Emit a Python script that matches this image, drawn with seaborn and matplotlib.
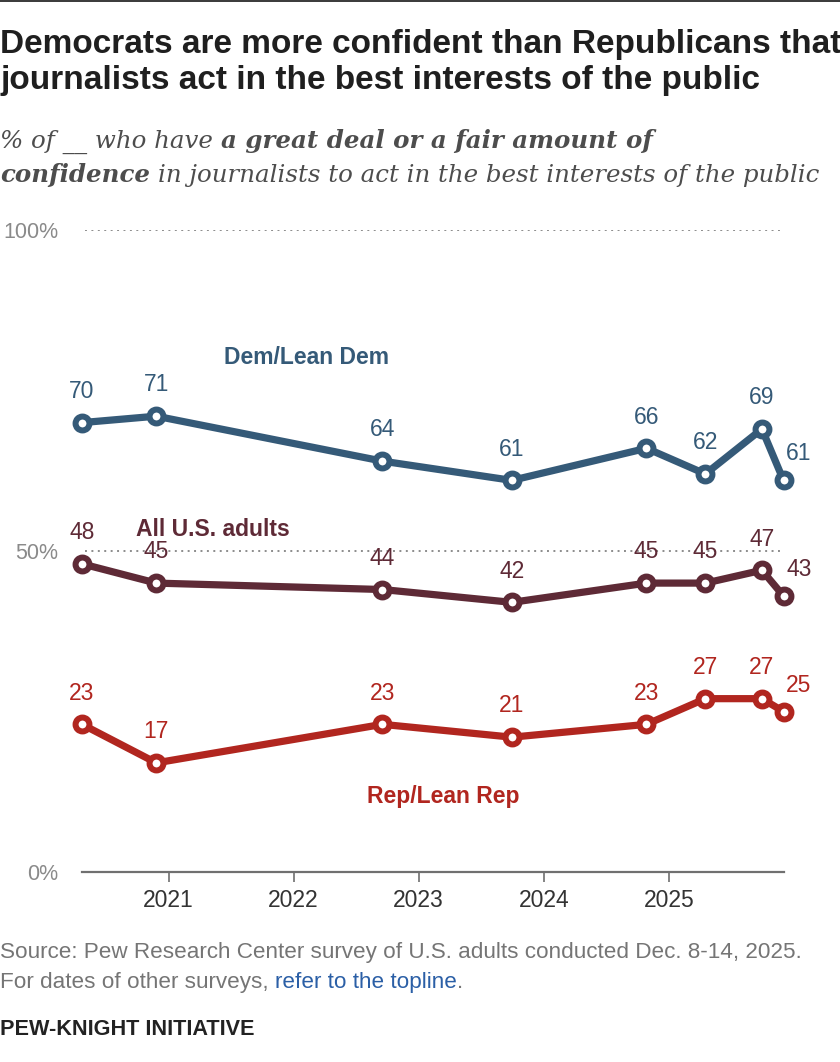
import pandas as pd
import matplotlib.pyplot as plt
import seaborn as sns

W, H = 840, 1062

# survey dates and shares
survey_dates = ["2020-04-23", "2020-11-26", "2022-09-17", "2023-09-30",
                "2024-10-27", "2025-04-17", "2025-09-29", "2025-12-01"]
dem = [70, 71, 64, 61, 66, 62, 69, 61]
all_adults = [48, 45, 44, 42, 45, 45, 47, 43]
rep = [23, 17, 23, 21, 23, 27, 27, 25]

groups = ["Dem/Lean Dem", "All U.S. adults", "Rep/Lean Rep"]
colors = ["#355a78", "#5e2a36", "#b1261f"]
year_ticks = [2021, 2022, 2023, 2024, 2025]
y_ticks = [0, 50, 100]
y_tick_labels = ["0%", "50%", "100%"]

df = pd.concat([
    pd.DataFrame({"date": pd.to_datetime(survey_dates), "value": vals, "group": g})
    for g, vals in zip(groups, [dem, all_adults, rep])
], ignore_index=True)

sns.set_style("white")
plt.rcParams["font.family"] = ["Liberation Sans", "DejaVu Sans"]

fig = plt.figure(figsize=(W / 100, H / 100), dpi=100)


def fx(x):
    return x / W


def fy(y):
    return 1 - y / H


ax = fig.add_axes([fx(82), fy(872), (783.5 - 82) / W, (872 - 230) / H])

# dotted reference lines
for y in [100, 50]:
    ax.axhline(y, xmin=0.004, xmax=0.995, color="#8c8c8c", lw=1.4,
               linestyle=(0, (1, 2.3)), zorder=1)

for g, c in zip(groups, colors):
    sub = df[df["group"] == g].reset_index(drop=True)
    sns.lineplot(data=sub, x="date", y="value", color=c, lw=5.2, marker="o",
                 ms=10, mfc="white", mec=c, mew=4.3, clip_on=False, zorder=4, ax=ax)
    for i, row in sub.iterrows():
        last = i == len(sub) - 1
        off = (11, 19) if last else (0, 22.5)
        ax.annotate(str(row["value"]), (row["date"], row["value"]), xytext=off,
                    textcoords="offset points", ha="center", va="center",
                    color=c, fontsize=16.5, zorder=5)

ax.set_ylim(0, 100)
ax.set_xlim(df["date"].min(), df["date"].max())
ax.set_xticks([pd.Timestamp(f"{y}-01-01") for y in year_ticks])
ax.set_xticklabels([str(y) for y in year_ticks])
ax.set_yticks(y_ticks)
ax.set_yticklabels(y_tick_labels)
ax.set_xlabel("")
ax.set_ylabel("")
sns.despine(ax=ax, left=True)
ax.spines["bottom"].set_color("#707070")
ax.spines["bottom"].set_linewidth(1.6)
ax.tick_params(axis="x", bottom=True, length=7, width=1.2, color="#707070",
               labelsize=16.5, labelcolor="#333333", pad=5)
ax.tick_params(axis="y", left=False, length=0, pad=17, labelsize=15.5,
               labelcolor="#8a8a8a")

# series names
fig.text(fx(307), fy(357), "Dem/Lean Dem", color=colors[0], fontsize=16.5,
         fontweight="bold", ha="center", va="center")
fig.text(fx(213), fy(529), "All U.S. adults", color=colors[1], fontsize=16.5,
         fontweight="bold", ha="center", va="center")
fig.text(fx(443), fy(797), "Rep/Lean Rep", color=colors[2], fontsize=16.5,
         fontweight="bold", ha="center", va="center")

renderer = fig.canvas.get_renderer()


def text_width(s, **kw):
    t = fig.text(0, 0, s, **kw)
    w = t.get_window_extent(renderer).width
    t.remove()
    return w


def draw_runs(x, y, runs, size, base):
    # runs: (text, extra props); a space goes between runs unless text starts with punctuation
    space = text_width("a a", fontsize=size, **base) - text_width("aa", fontsize=size, **base)
    for j, (s, props) in enumerate(runs):
        if j > 0 and s[0] not in ".,":
            x += space
        kw = dict(base, **props)
        t = fig.text(fx(x), fy(y), s, fontsize=size, va="baseline", ha="left", **kw)
        x += t.get_window_extent(renderer).width
    return x


def fit_size(runs, target, base):
    x_end = draw_runs(0, -100, runs, 10, base)
    for t in fig.texts[-len(runs):]:
        t.remove()
    return 10 * target / x_end


# top band
fig.add_artist(plt.Rectangle((0, fy(2)), 1, 2 / H, transform=fig.transFigure,
                             color="#3d3d3d", lw=0))

# title
title_base = dict(color="#1f1f1f", fontweight="bold")
t1 = [("Democrats are more confident than Republicans that", {})]
t2 = [("journalists act in the best interests of the public", {})]
ts = fit_size(t1, 838, title_base)
draw_runs(0, 53, t1, ts, title_base)
draw_runs(0, 89, t2, ts, title_base)

# subtitle
sub_base = dict(color="#4d4d4d", family="DejaVu Serif", style="italic")
bold = {"fontweight": "bold"}
s1 = [("% of __ who have", {}), ("a great deal or a fair amount of", bold)]
s2 = [("confidence", bold), ("in journalists to act in the best interests of the public", {})]
ss = fit_size(s2, 818, sub_base)
draw_runs(0, 148, s1, ss, sub_base)
draw_runs(0, 182, s2, ss, sub_base)

# source
src_base = dict(color="#757575")
n1 = [("Source: Pew Research Center survey of U.S. adults conducted Dec. 8-14, 2025.", {})]
n2 = [("For dates of other surveys,", {}), ("refer to the topline", {"color": "#2b5fa6"}), (".", {})]
ns = fit_size(n1, 802, src_base)
draw_runs(0, 958, n1, ns, src_base)
draw_runs(0, 988, n2, ns, src_base)

brand_base = dict(color="#222222", fontweight="bold")
b1 = [("PEW-KNIGHT INITIATIVE", {})]
bs = fit_size(b1, 252, brand_base)
draw_runs(0, 1035, b1, bs, brand_base)

fig.savefig("out.png", dpi=100, facecolor="white")
